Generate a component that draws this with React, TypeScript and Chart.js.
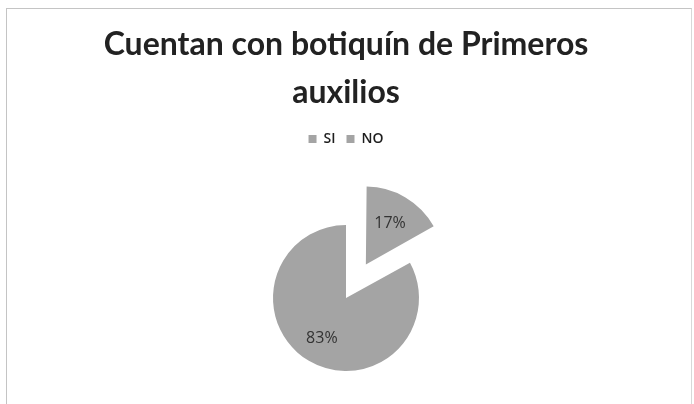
import React, { useEffect, useRef } from "react";
import { Chart, registerables } from "chart.js";

Chart.register(...registerables);

const categories = ["SI", "NO"];
const values = [17, 83];
const percentLabels = ["17%", "83%"];
const titleLines = ["Cuentan con botiquín de Primeros", "auxilios"];

const sliceLabelPlugin = {
  id: "sliceLabels",
  afterDatasetsDraw(chart: any) {
    const meta = chart.getDatasetMeta(0);
    const ctx = chart.ctx;
    ctx.save();
    ctx.font = "16px 'Open Sans', sans-serif";
    ctx.fillStyle = "#333333";
    ctx.textAlign = "center";
    ctx.textBaseline = "middle";
    meta.data.forEach((arc: any, i: number) => {
      const p = arc.getProps(["x", "y", "startAngle", "endAngle", "outerRadius"], true);
      const mid = (p.startAngle + p.endAngle) / 2;
      const off = (arc.options.offset || 0) / 4;
      const d = off + p.outerRadius * 0.65;
      ctx.fillText(percentLabels[i], p.x + Math.cos(mid) * d, p.y + Math.sin(mid) * d);
    });
    ctx.restore();
  },
};

export default function App() {
  const ref = useRef<HTMLCanvasElement | null>(null);
  useEffect(() => {
    if (!ref.current) return;
    const chart = new Chart(ref.current, {
      type: "pie",
      data: {
        labels: categories,
        datasets: [
          {
            data: values,
            backgroundColor: ["#a4a4a4", "#a4a4a4"],
            borderWidth: 0,
            offset: [156, 0],
          },
        ],
      },
      options: {
        animation: false,
        responsive: false,
        radius: 73,
        layout: { padding: { top: 11, bottom: 14, left: 0, right: 2 } },
        plugins: {
          tooltip: { enabled: false },
          title: {
            display: true,
            text: titleLines,
            color: "#222222",
            font: { family: "Lato, 'Open Sans', sans-serif", size: 32, weight: "bold", lineHeight: "48px" as any },
            padding: { top: 10, bottom: 4 },
          },
          legend: {
            display: true,
            position: "top",
            labels: {
              color: "#1e1e1e",
              font: { family: "'Open Sans', sans-serif", size: 14, weight: "600" },
              boxWidth: 8,
              boxHeight: 8,
              padding: 11,
            },
          },
        },
      } as any,
      plugins: [sliceLabelPlugin],
    });
    return () => chart.destroy();
  }, []);
  return (
    <div style={{ position: "fixed", left: 0, top: 0, width: 694, height: 404, background: "#fff", overflow: "hidden" }}>
      <div
        style={{
          position: "absolute",
          left: 6,
          top: 8,
          width: 684,
          height: 400,
          borderTop: "1px solid #c4c4c4",
          borderLeft: "1px solid #c4c4c4",
          borderRight: "1px solid #d8d8d8",
        }}
      />
      <canvas ref={ref} width={694} height={454} style={{ position: "absolute", left: 0, top: 0 }} />
    </div>
  );
}
